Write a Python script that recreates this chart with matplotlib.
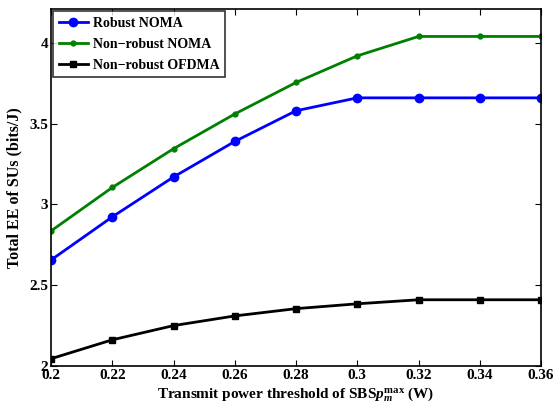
import matplotlib
matplotlib.use('Agg')
import matplotlib.pyplot as plt

plt.rcParams['font.family'] = ['Liberation Serif', 'DejaVu Serif']
plt.rcParams['font.weight'] = 'bold'
plt.rcParams['mathtext.fontset'] = 'custom'
plt.rcParams['mathtext.rm'] = 'Liberation Serif:bold'
plt.rcParams['mathtext.it'] = 'Liberation Serif:italic:bold'

# 数据
p_max = [0.2, 0.22, 0.24, 0.26, 0.28, 0.3, 0.32, 0.34, 0.36]
robust_noma = [2.656, 2.923, 3.17, 3.39, 3.58, 3.66, 3.66, 3.66, 3.66]
nonrobust_noma = [2.836, 3.105, 3.345, 3.56, 3.755, 3.92, 4.04, 4.04, 4.04]
nonrobust_ofdma = [2.045, 2.162, 2.25, 2.31, 2.355, 2.385, 2.41, 2.41, 2.41]
xtick_labels = ['0.2', '0.22', '0.24', '0.26', '0.28', '0.3', '0.32', '0.34', '0.36']
ytick_vals = [2, 2.5, 3, 3.5, 4]

fig = plt.figure(figsize=(5.54, 4.11), dpi=100)
ax = fig.add_axes([51 / 554, 45 / 411, 490 / 554, 357 / 411])

ax.plot(p_max, robust_noma, color='#0000ff', lw=2, marker='o', ms=6,
        label='Robust NOMA')
ax.plot(p_max, nonrobust_noma, color='#008000', lw=2, marker='.', ms=7,
        label='Non\u2212robust NOMA')
ax.plot(p_max, nonrobust_ofdma, color='black', lw=2, marker='s', ms=5,
        label='Non\u2212robust OFDMA')

ax.set_xlim(0.2, 0.36)
ax.set_ylim(2, 4.21)
ax.set_xticks(p_max)
ax.set_xticklabels(xtick_labels)
ax.set_yticks(ytick_vals)
ax.set_yticklabels(['2', '2.5', '3', '3.5', '4'])
ax.tick_params(direction='in', top=True, right=True, labelsize=11, length=4, pad=2)
for s in ax.spines.values():
    s.set_linewidth(1.2)

ax.set_xlabel(r'Transmit power threshold of SBS$\mathit{p}_{m}^{\max}$ (W)',
              fontsize=11, fontweight='bold', labelpad=2)
ax.set_ylabel('Total EE of SUs (bits/J)', fontsize=11.5, fontweight='bold', labelpad=5)

leg = ax.legend(loc='upper left', fontsize=10, fancybox=False, edgecolor='black',
                borderaxespad=0.15, handlelength=2.1, handletextpad=0.35,
                labelspacing=0.58, borderpad=0.4)
leg.get_frame().set_linewidth(1.2)
for t in leg.get_texts():
    t.set_fontweight('bold')

fig.savefig('out.png', dpi=100)
